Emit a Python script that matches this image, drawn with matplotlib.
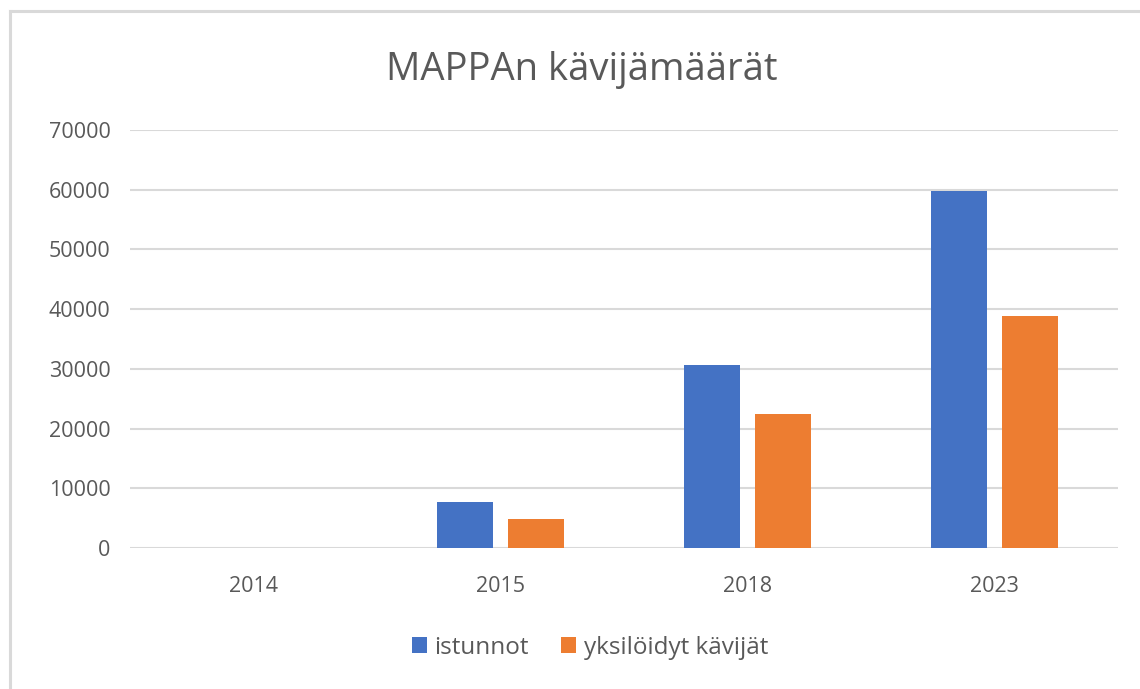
import matplotlib.pyplot as plt
import numpy as np
from matplotlib.lines import Line2D

# === DATA ===
years = ['2014', '2015', '2018', '2023']
istunnot = [0, 7700, 30600, 59800]
yksiloidyt = [0, 4900, 22500, 38800]
series_names = ['istunnot', 'yksilöidyt kävijät']

BLUE = '#4472C4'
ORANGE = '#ED7D31'
GRAY = '#595959'

plt.rcParams['font.family'] = ['Open Sans', 'DejaVu Sans']

fig = plt.figure(figsize=(11.4, 6.89), dpi=100)
ax = fig.add_axes([0.114, 0.2047, 0.867, 0.6066])

# chart border (only top and left visible in the crop)
fig.lines.append(Line2D([0.0085, 1.0], [0.984, 0.984], transform=fig.transFigure,
                        color='#d9d9d9', linewidth=2.2))
fig.lines.append(Line2D([0.0085, 0.0085], [0.0, 0.984], transform=fig.transFigure,
                        color='#d9d9d9', linewidth=2.2))

x = np.arange(len(years))
w = 0.227
off = 0.144
ax.bar(x - off, istunnot, w, color=BLUE, label=series_names[0], zorder=3)
ax.bar(x + off, yksiloidyt, w, color=ORANGE, label=series_names[1], zorder=3)

ax.set_xlim(-0.5, 3.5)
ax.set_ylim(0, 70000)
ax.set_yticks(np.arange(0, 70001, 10000))
ax.set_xticks(x)
ax.set_xticklabels(years)
ax.yaxis.grid(True, color='#d9d9d9', linewidth=1.5, zorder=0)
ax.set_axisbelow(True)
for s in ax.spines.values():
    s.set_visible(False)
ax.tick_params(length=0, labelsize=15.5, labelcolor=GRAY)
ax.tick_params(axis='y', pad=14)
ax.tick_params(axis='x', pad=20)

fig.text(0.51, 0.898, 'MAPPAn kävijämäärät', ha='center', va='center',
         fontsize=27.5, color=GRAY)

fig.legend(loc='center', bbox_to_anchor=(0.5175, 0.06), ncol=2, frameon=False,
           fontsize=17.5, labelcolor=GRAY, handlelength=0.62, handleheight=0.62,
           handletextpad=0.3, columnspacing=1.35)

fig.savefig('out.png', dpi=100)
